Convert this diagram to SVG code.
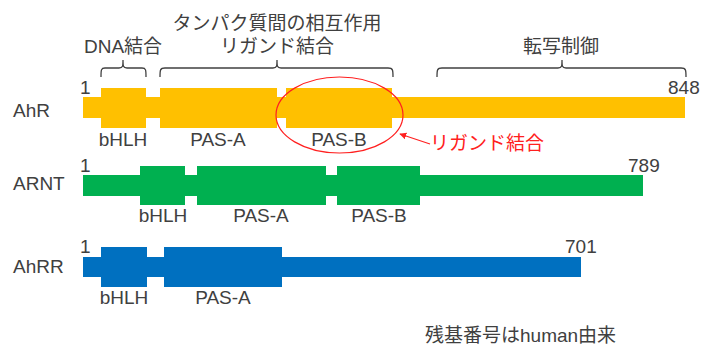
<svg xmlns="http://www.w3.org/2000/svg" width="703" height="347" viewBox="0 0 703 347">
<style>
text{font-family:"Liberation Sans","Noto Sans CJK JP",sans-serif;fill:#404040;font-size:19px}
.j{font-size:19px}
.m{text-anchor:middle}
.br{fill:none;stroke:#404040;stroke-width:1.3}
.ahr{fill:#FFC000}
.arnt{fill:#00B050}
.ahrr{fill:#0070C0}
.red{fill:#FF2020}
</style>
<defs>
<marker id="ah" viewBox="0 0 10 10" refX="9" refY="5" markerWidth="7" markerHeight="7" orient="auto" markerUnits="userSpaceOnUse">
<path d="M0,0 L10,5 L0,10 z" fill="#FF2020"/>
</marker>
</defs>
<rect width="703" height="347" fill="#fff"/>

<g id="AhR">
<text x="13" y="117">AhR</text>
<text x="80" y="94">1</text>
<text x="668" y="94">848</text>
<rect class="ahr" x="83" y="97" width="602" height="21"/>
<rect class="ahr" x="101" y="88" width="45" height="40"/>
<rect class="ahr" x="160" y="88" width="117" height="40"/>
<rect class="ahr" x="286" y="88" width="106" height="40"/>
<text class="m" x="123" y="146">bHLH</text>
<text class="m" x="218" y="146">PAS-A</text>
<text class="m" x="339" y="146">PAS-B</text>
</g>

<g id="ARNT">
<text x="13" y="190">ARNT</text>
<text x="80" y="172">1</text>
<text x="628" y="172">789</text>
<rect class="arnt" x="83" y="175" width="560" height="21"/>
<rect class="arnt" x="140" y="166" width="45" height="39"/>
<rect class="arnt" x="197" y="166" width="129" height="39"/>
<rect class="arnt" x="337" y="166" width="83" height="39"/>
<text class="m" x="163" y="222">bHLH</text>
<text class="m" x="261" y="222">PAS-A</text>
<text class="m" x="379" y="222">PAS-B</text>
</g>

<g id="AhRR">
<text x="13" y="273">AhRR</text>
<text x="80" y="253">1</text>
<text x="565" y="253">701</text>
<rect class="ahrr" x="83" y="257" width="498" height="20"/>
<rect class="ahrr" x="101" y="247" width="46" height="40"/>
<rect class="ahrr" x="164" y="247" width="118" height="40"/>
<text class="m" x="124" y="304">bHLH</text>
<text class="m" x="223" y="304">PAS-A</text>
</g>

<g id="brackets">
<path class="br" d="M101,77 C101,70 101,68 105,68 H119 C123,68 123,66 123,60 C123,66 123,68 127,68 H142 C146,68 146,70 146,77"/>
<path class="br" d="M160,77 C160,70 160,68 165,68 H273 C277,68 277,66 277,60 C277,66 277,68 281,68 H388 C393,68 393,70 393,77"/>
<path class="br" d="M437,77 C437,70 437,68 442,68 H558 C562,68 562,66 562,60 C562,66 562,68 566,68 H681 C686,68 686,70 686,77"/>
</g>

<g id="labels">
<text class="j m" x="123" y="53">DNA結合</text>
<text class="j m" x="277" y="30">タンパク質間の相互作用</text>
<text class="j m" x="277" y="53">リガンド結合</text>
<text class="j m" x="561" y="53">転写制御</text>
<text class="j" x="425" y="342">残基番号はhuman由来</text>
</g>

<g id="ligand">
<ellipse cx="339.5" cy="115" rx="63.5" ry="38" fill="none" stroke="#FF2020" stroke-width="1.2"/>
<text class="j red" x="430" y="150">リガンド結合</text>
</g>

<g id="connectors">
<line x1="430" y1="144" x2="400" y2="134" stroke="#FF2020" stroke-width="1.3" marker-end="url(#ah)"/>
</g>
</svg>
